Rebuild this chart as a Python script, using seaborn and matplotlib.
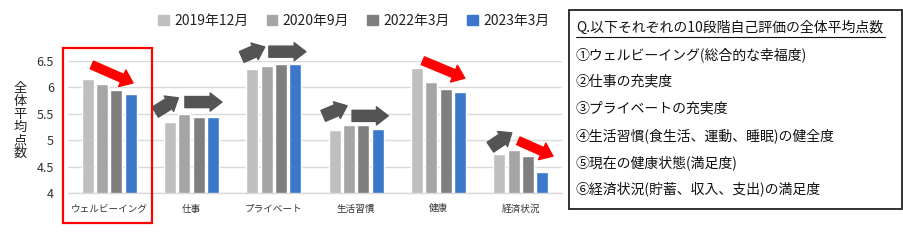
import numpy as np
import pandas as pd
import matplotlib
matplotlib.use("Agg")
import matplotlib.pyplot as plt
from matplotlib.patches import FancyArrowPatch, Rectangle
from matplotlib.lines import Line2D
from matplotlib.ticker import FuncFormatter
import seaborn as sns

# --- data -------------------------------------------------------------
categories = ["ウェルビーイング", "仕事", "プライベート", "生活習慣", "健康", "経済状況"]
periods = ["2019年12月", "2020年9月", "2022年3月", "2023年3月"]
v2019_12 = [6.16, 5.34, 6.34, 5.20, 6.36, 4.74]
v2020_09 = [6.06, 5.49, 6.40, 5.29, 6.09, 4.82]
v2022_03 = [5.94, 5.43, 6.44, 5.29, 5.97, 4.70]
v2023_03 = [5.87, 5.44, 6.43, 5.22, 5.91, 4.41]
colors = ["#BFBFBF", "#A5A5A5", "#7F7F7F", "#3B78CC"]

question = "Q.以下それぞれの10段階自己評価の全体平均点数"
items = [
    "①ウェルビーイング(総合的な幸福度)",
    "②仕事の充実度",
    "③プライベートの充実度",
    "④生活習慣(食生活、運動、睡眠)の健全度",
    "⑤現在の健康状態(満足度)",
    "⑥経済状況(貯蓄、収入、支出)の満足度",
]

series = [v2019_12, v2020_09, v2022_03, v2023_03]
df = pd.DataFrame(
    [(c, p, v) for p, vals in zip(periods, series) for c, v in zip(categories, vals)],
    columns=["category", "period", "score"],
)

# --- style ------------------------------------------------------------
sns.set_theme(style="white")
plt.rcParams["font.family"] = ["Noto Sans CJK JP", "DejaVu Sans"]

W, H = 904, 242
fig = plt.figure(figsize=(W / 100, H / 100), dpi=100)
ax = fig.add_axes([68 / W, 1 - 193.3 / H, (562 - 68) / W, (193.3 - 60.7) / H])

sns.barplot(
    data=df, x="category", y="score", hue="period", order=categories,
    hue_order=periods, palette=colors, width=0.70, gap=0.16,
    legend=False, ax=ax, saturation=1,
)

ax.set_ylim(4, 6.5)
ax.set_xlim(-0.5, len(categories) - 0.5)
ax.set_yticks(np.arange(4, 6.51, 0.5))
ax.yaxis.set_major_formatter(FuncFormatter(lambda v, _: f"{v:g}"))
ax.tick_params(axis="y", length=0, labelsize=9, pad=10, colors="#333333")
ax.tick_params(axis="x", length=0, labelsize=6.9, pad=8, colors="#333333")
ax.set_xlabel("")
ax.set_ylabel("")
ax.grid(axis="y", color="#D9D9D9", linewidth=1)
ax.set_axisbelow(True)
for side in ["left", "right", "top"]:
    ax.spines[side].set_visible(False)
ax.spines["bottom"].set_color("#D9D9D9")
ax.spines["bottom"].set_linewidth(1)

# vertical axis title, characters stacked
fig.text(20 / W, 1 - 121 / H, "\n".join("全体平均点数"), ha="center", va="center",
         fontsize=9.5, linespacing=1.0, color="#222222")

# legend
handles = [Rectangle((0, 0), 1, 1, color=c) for c in colors]
fig.legend(handles, periods, loc="center", bbox_to_anchor=(354 / W, 1 - 21 / H),
           ncol=4, frameon=False, fontsize=10, handlelength=0.75, handleheight=0.75,
           handletextpad=0.4, columnspacing=1.3, labelcolor="#222222")

# trend arrows
gray = "#545454"
red = "#FF0000"
arrows = [
    # (x0, y0, x1, y1, colour, tail, head_w, head_l)
    (-0.21, 6.42, 0.29, 6.08, red, 6, 13, 8.5),
    (0.56, 5.53, 0.84, 5.80, gray, 8.5, 13, 8),
    (0.92, 5.72, 1.37, 5.72, gray, 8, 13, 8.5),
    (1.61, 6.57, 1.89, 6.76, gray, 8.5, 13, 8),
    (1.94, 6.67, 2.39, 6.67, gray, 8, 13, 8.5),
    (2.60, 5.46, 2.89, 5.65, gray, 8.5, 13, 8),
    (2.95, 5.46, 3.39, 5.46, gray, 8, 13, 8.5),
    (3.81, 6.50, 4.32, 6.17, red, 6, 13, 8.5),
    (4.63, 4.87, 4.89, 5.14, gray, 8.5, 13, 8),
    (4.97, 4.99, 5.39, 4.70, red, 6, 13, 8.5),
]
for x0, y0, x1, y1, col, tw, hw, hl in arrows:
    ax.add_patch(FancyArrowPatch(
        (x0, y0), (x1, y1),
        arrowstyle=f"simple,tail_width={tw},head_width={hw},head_length={hl}",
        color=col, shrinkA=0, shrinkB=0, clip_on=False, zorder=5,
    ))

# highlight frame around the first category
fig.add_artist(Rectangle((63 / W, 1 - 223 / H), (152 - 63) / W, (223 - 48) / H,
                         transform=fig.transFigure, fill=False,
                         edgecolor="#FF0000", linewidth=1.6))

# question box
fig.add_artist(Rectangle((569 / W, 1 - 209 / H), (902 - 569) / W, (209 - 10) / H,
                         transform=fig.transFigure, fill=False,
                         edgecolor="#222222", linewidth=1.3))
fig.text(576 / W, 1 - 28 / H, question, ha="left", va="center", fontsize=10,
         color="#111111")
fig.add_artist(Line2D([576 / W, 885 / W], [1 - 37 / H, 1 - 37 / H],
                      transform=fig.transFigure, color="#111111", linewidth=0.8))
for i, t in enumerate(items):
    fig.text(576 / W, 1 - (55 + i * 26.8) / H, t, ha="left", va="center",
             fontsize=10, color="#111111")

fig.savefig("out.png", dpi=100)
